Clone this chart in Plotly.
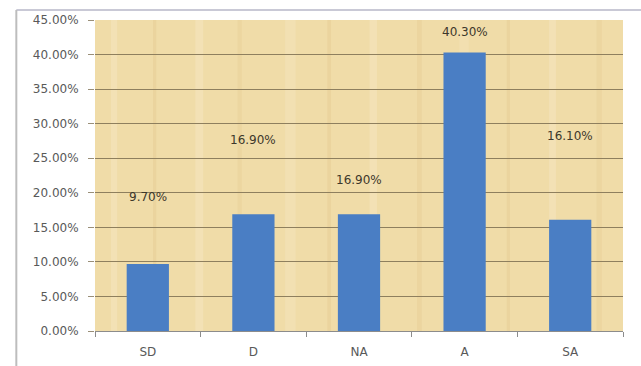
import plotly.graph_objects as go

# Survey response shares
categories = ["SD", "D", "NA", "A", "SA"]
shares = [9.70, 16.90, 16.90, 40.30, 16.10]
# Vertical placement of each value label (in axis units)
label_y = [19.4, 27.6, 21.8, 43.2, 28.2]

y_ticks = [0, 5, 10, 15, 20, 25, 30, 35, 40, 45]
y_tick_text = [f"{v:.2f}%" for v in y_ticks]

FONT = "DejaVu Sans"

fig = go.Figure()
fig.add_trace(go.Bar(
    x=categories,
    y=shares,
    marker=dict(color="#4A7EC4", line=dict(width=0)),
    width=0.4,
    hoverinfo="x+y",
))

for cat, val, ly in zip(categories, shares, label_y):
    fig.add_annotation(
        x=cat, y=ly, text=f"{val:.2f}%", showarrow=False,
        font=dict(family=FONT, size=12, color="#3D382B"),
    )

# Papyrus-like backdrop: base tan fill plus faint vertical fibres
shapes = [dict(type="rect", xref="paper", yref="paper", x0=0, x1=1, y0=0, y1=1,
               fillcolor="#F0DCA8", line=dict(width=0), layer="below")]
fibres = [(0.03, 0.012, "#F5E5BE"), (0.11, 0.006, "#E8CF98"), (0.19, 0.015, "#F5E5BE"),
          (0.27, 0.008, "#E9D29B"), (0.36, 0.02, "#F4E3B9"), (0.44, 0.007, "#E8CF98"),
          (0.52, 0.014, "#F5E5BE"), (0.61, 0.009, "#E9D19A"), (0.69, 0.018, "#F3E1B5"),
          (0.78, 0.006, "#E8CF98"), (0.86, 0.013, "#F5E5BE"), (0.95, 0.01, "#E9D29B")]
for x0, w, c in fibres:
    shapes.append(dict(type="rect", xref="paper", yref="paper", x0=x0, x1=x0 + w,
                       y0=0, y1=1, fillcolor=c, line=dict(width=0), layer="below",
                       opacity=0.6))
# Outer chart frame lines
shapes.append(dict(type="line", xref="paper", yref="paper", x0=-0.149, x1=1.04,
                   y0=1.032, y1=1.032, line=dict(color="#C9C9D6", width=2)))
shapes.append(dict(type="line", xref="paper", yref="paper", x0=-0.149, x1=-0.149,
                   y0=1.032, y1=-0.12, line=dict(color="#BDBDBD", width=2)))

fig.update_layout(
    width=641, height=366,
    margin=dict(l=95, r=18, t=20, b=35),
    paper_bgcolor="white",
    plot_bgcolor="#F0DCA8",
    showlegend=False,
    bargap=0.6,
    shapes=shapes,
    font=dict(family=FONT, size=12, color="#595959"),
)
fig.update_xaxes(
    showgrid=False, showline=True, linecolor="#8C8C8C", linewidth=1,
    ticks="outside", tickson="boundaries", ticklen=5, tickcolor="#8C8C8C",
    tickfont=dict(family=FONT, size=12, color="#595959"),
    ticklabelstandoff=10, automargin=False,
)
fig.update_yaxes(
    range=[0, 45], tickvals=y_ticks, ticktext=y_tick_text,
    showgrid=True, gridcolor="#8E7F5E", gridwidth=1,
    zeroline=False, showline=False, ticks="outside", ticklen=6, tickcolor="#9A8F78",
    tickfont=dict(family=FONT, size=12, color="#595959"),
    ticklabelstandoff=7, automargin=False,
)

fig.write_html("out.html")
